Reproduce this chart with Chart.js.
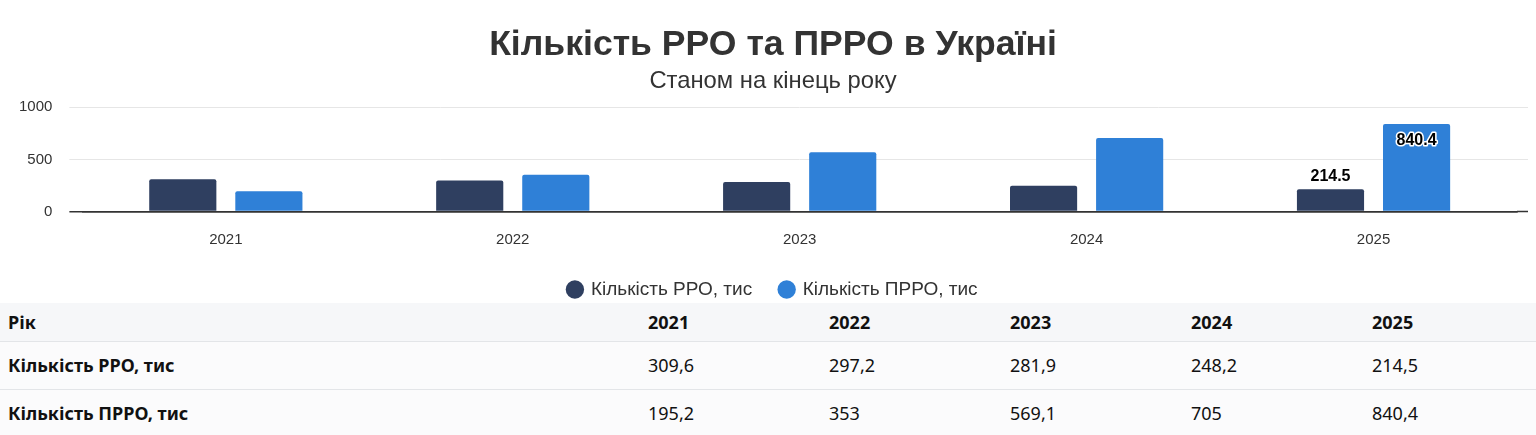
<!DOCTYPE html>
<html lang="uk">
<head>
<meta charset="utf-8">
<script src="https://cdn.jsdelivr.net/npm/chart.js@4.4.1/dist/chart.umd.min.js"></script>
<style>
	body { margin: 0; background: #ffffff; overflow: hidden; }
	#wrap { width: 1536px; height: 309px; position: relative; }
	table { border-collapse: collapse; table-layout: fixed; width: 1545px; margin-top: -6px; position: relative;
		font-family: "Noto Sans", "Open Sans", Arial, sans-serif; font-size: 18px; color: #111; }
	td, th { padding: 0 8px; text-align: left; border-bottom: 1px solid #e3e5e8; }
	thead tr { background: #f6f7f9; height: 38px; }
	tbody tr { background: #fbfbfc; height: 48px; }
	th { font-weight: 700; }
	tbody td:first-child { font-weight: 700; }
</style>
</head>
<body>
<div id="wrap"><canvas id="rro_chart"></canvas></div>
<table id="rro_table">
	<colgroup><col style="width:640px"><col style="width:181px"><col style="width:181px"><col style="width:181px"><col style="width:181px"><col style="width:181px"></colgroup>
	<thead></thead>
	<tbody></tbody>
</table>
<script>
//
// Кількість РРО та ПРРО, тис. (на кінець року)
//
const years = [ "2021", "2022", "2023", "2024", "2025" ];
const rro = [ 309.6, 297.2, 281.9, 248.2, 214.5 ];
const prro = [ 195.2, 353, 569.1, 705, 840.4 ];
const y_ticks = [ 0, 500, 1000 ];
const labelled_index = 4;

const rro_label = "Кількість РРО, тис";
const prro_label = "Кількість ПРРО, тис";
const font_family = "Arial, 'Liberation Sans', sans-serif";

// сітка: лінія нуля темна, решта світлі
const line_color = ( c ) => c.tick && c.tick.value === 0 ? "#333333" : "#e6e6e6";
const line_width = ( c ) => c.tick && c.tick.value === 0 ? 1.5 : 1;

//
// Підписи значень лише для останнього року.
//
const value_labels = {
	id: "value_labels",
	afterDatasetsDraw( chart ) {
		const ctx = chart.ctx;
		ctx.save();
		ctx.font = "bold 16px " + font_family;
		ctx.textAlign = "center";
		ctx.lineJoin = "round";
		chart.data.datasets.forEach( ( ds, i ) => {
			const bar = chart.getDatasetMeta( i ).data[ labelled_index ];
			const text = ds.data[ labelled_index ].toFixed( 1 );
			const inside = i === 1;
			const y = inside ? bar.y + 9 : bar.y - 5;
			ctx.textBaseline = inside ? "top" : "bottom";
			ctx.lineWidth = 3;
			ctx.strokeStyle = "#ffffff";
			ctx.strokeText( text, bar.x, y );
			ctx.fillStyle = "#000000";
			ctx.fillText( text, bar.x, y );
		} );
		ctx.restore();
	}
};

new Chart( document.getElementById( "rro_chart" ),
	{
		type: "bar",
		data: {
			labels: years,
			datasets: [
				{
					label: rro_label,
					data: rro,
					backgroundColor: "#2f3f60",
					borderRadius: 2,
					categoryPercentage: 0.6,
					barPercentage: 0.78
				},
				{
					label: prro_label,
					data: prro,
					backgroundColor: "#2f80d7",
					borderRadius: 2,
					categoryPercentage: 0.6,
					barPercentage: 0.78
				}
			]
		},
		options: {
			responsive: true,
			maintainAspectRatio: false,
			animation: false,
			layout: {
				padding: { top: 24, left: 18, right: 8, bottom: 0 }
			},
			plugins: {
				title: {
					display: true,
					text: "Кількість РРО та ПРРО в Україні",
					color: "#333333",
					font: { size: 35.6, weight: "bold", family: font_family },
					padding: { top: 0, bottom: 0 }
				},
				subtitle: {
					display: true,
					text: "Станом на кінець року",
					color: "#333333",
					font: { size: 23.8, family: font_family },
					padding: { top: 0, bottom: 12 }
				},
				legend: {
					position: "bottom",
					labels: {
						usePointStyle: true,
						pointStyle: "circle",
						boxWidth: 13,
						boxHeight: 13,
						padding: 28,
						color: "#333333",
						font: { size: 19, family: font_family }
					}
				},
				tooltip: { enabled: false }
			},
			scales: {
				x: {
					grid: { display: false },
					border: { color: "#333333", width: 1.5 },
					ticks: {
						color: "#333333",
						padding: 11,
						font: { size: 15, family: font_family }
					},
					afterFit( scale ) { scale.height -= 7.5; }
				},
				y: {
					min: 0,
					max: 1000,
					afterBuildTicks( scale ) { scale.ticks = y_ticks.map( v => ( { value: v } ) ); },
					grid: { color: line_color, lineWidth: line_width, tickColor: line_color, tickWidth: line_width, tickLength: 13 },
					border: { display: false },
					ticks: {
						color: "#333333",
						padding: 17,
						callback: v => String( v ),
						font: { size: 15, family: font_family }
					},
					afterFit( scale ) { scale.width -= 16; }
				},
				y_right: {
					position: "right",
					min: 0,
					max: 1000,
					afterBuildTicks( scale ) { scale.ticks = y_ticks.map( v => ( { value: v } ) ); },
					grid: { drawOnChartArea: false, tickColor: line_color, tickWidth: line_width, tickLength: 11 },
					border: { display: false },
					ticks: { display: false }
				}
			}
		},
		plugins: [ value_labels ]
	} );

//
// Таблиця даних під графіком.
//
const fmt = v => String( v ).replace( ".", "," );
document.querySelector( "#rro_table thead" ).innerHTML =
	"<tr><th>Рік</th>" + years.map( y => "<th>" + y + "</th>" ).join( "" ) + "</tr>";
document.querySelector( "#rro_table tbody" ).innerHTML =
	[ [ rro_label, rro ], [ prro_label, prro ] ].map( ( [ name, vals ] ) =>
		"<tr><td>" + name + "</td>" + vals.map( v => "<td>" + fmt( v ) + "</td>" ).join( "" ) + "</tr>"
	).join( "" );
</script>
</body>
</html>
